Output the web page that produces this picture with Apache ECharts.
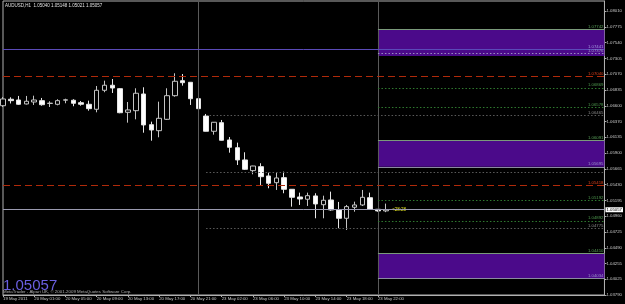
<!DOCTYPE html>
<html><head><meta charset="utf-8">
<script src="https://cdn.jsdelivr.net/npm/echarts@6/dist/echarts.min.js"></script>
<style>html,body{margin:0;padding:0;background:#000;}#c{width:625px;height:304px;}</style>
</head><body><div id="c"></div>
<script>
const symbolName = 'AUDUSD,H1';
const categories = [
 '19 May 21:00','19 May 22:00','19 May 23:00',
 '20 May 00:00','20 May 01:00','20 May 02:00','20 May 03:00','20 May 04:00','20 May 05:00','20 May 06:00','20 May 07:00',
 '20 May 08:00','20 May 09:00','20 May 10:00','20 May 11:00','20 May 12:00','20 May 13:00','20 May 14:00','20 May 15:00',
 '20 May 16:00','20 May 17:00','20 May 18:00','20 May 19:00','20 May 20:00','20 May 21:00','20 May 22:00',
 '23 May 00:00','23 May 01:00','23 May 02:00','23 May 03:00','23 May 04:00','23 May 05:00','23 May 06:00','23 May 07:00',
 '23 May 08:00','23 May 09:00','23 May 10:00','23 May 11:00','23 May 12:00','23 May 13:00','23 May 14:00','23 May 15:00',
 '23 May 16:00','23 May 17:00','23 May 18:00','23 May 19:00','23 May 20:00','23 May 21:00','23 May 22:00','23 May 23:00'
];
const firstTickLabel = '19 May 2011';
const emptySlots = 28;
const opens  = [1.06603,1.06699,1.06688,1.06629,1.06658,1.06678,1.06636,1.06624,1.06685,1.06684,1.06648,1.06624,1.06550,1.06832,1.06907,1.06856,1.06505,1.06529,1.06777,1.06321,1.06232,1.06401,1.06752,1.06975,1.06951,1.06707,1.06450,1.06223,1.06351,1.06094,1.05979,1.05797,1.05638,1.05697,1.05559,1.05459,1.05534,1.05361,1.05247,1.05213,1.05262,1.05132,1.05202,1.05054,1.04930,1.05094,1.05128,1.05236,1.05064,1.05040];
const highs  = [1.06733,1.06728,1.06748,1.06748,1.06752,1.06718,1.06669,1.06699,1.06707,1.06699,1.06673,1.06678,1.06896,1.06975,1.07000,1.06866,1.06658,1.06862,1.06877,1.06366,1.06663,1.06862,1.07085,1.07074,1.06955,1.06718,1.06480,1.06360,1.06391,1.06138,1.06054,1.05911,1.05710,1.05748,1.05608,1.05608,1.05623,1.05365,1.05311,1.05311,1.05302,1.05266,1.05326,1.05173,1.05128,1.05177,1.05351,1.05311,1.05068,1.05148];
const lows   = [1.06584,1.06636,1.06614,1.06621,1.06614,1.06603,1.06584,1.06609,1.06639,1.06595,1.06603,1.06529,1.06505,1.06803,1.06792,1.06491,1.06351,1.06401,1.06202,1.06083,1.06134,1.06391,1.06737,1.06901,1.06614,1.06465,1.06220,1.06173,1.06085,1.05905,1.05722,1.05648,1.05584,1.05425,1.05376,1.05351,1.05302,1.05103,1.05128,1.05113,1.04930,1.04930,1.05043,1.04782,1.04756,1.05028,1.05113,1.05054,1.05028,1.05021];
const closes = [1.06703,1.06678,1.06624,1.06669,1.06688,1.06618,1.06641,1.06678,1.06691,1.06639,1.06624,1.06559,1.06832,1.06907,1.06866,1.06499,1.06540,1.06788,1.06317,1.06242,1.06416,1.06752,1.06966,1.06945,1.06707,1.06559,1.06223,1.06357,1.06089,1.05985,1.05797,1.05658,1.05707,1.05548,1.05450,1.05529,1.05361,1.05242,1.05217,1.05266,1.05143,1.05198,1.05054,1.04930,1.05103,1.05128,1.05242,1.05064,1.05040,1.05057];
const priceTicks = [1.08010,1.07775,1.07540,1.07305,1.07070,1.06835,1.06600,1.06370,1.06135,1.05900,1.05665,1.05430,1.05195,1.04960,1.04725,1.04490,1.04255,1.04025,1.03790];
const priceMin = 1.03790, priceMax = 1.08159;
const zoneTops = [1.07742, 1.06091, 1.04410];
const zoneBottoms = [1.07342, 1.05695, 1.04034];
const zoneStartBar = 48;
const greenLevels = [1.06869, 1.06578, 1.05192, 1.04892];
const grayLevels = [1.06465, 1.05618, 1.04775];
const grayLevelLabels = ['1.06465', '', '1.04775'];
const grayStartBar = 26;
const redLevels = [1.07040, 1.05418];
const blueLevel = 1.07441;
const zoneDotLevel = 1.07376;
const bottomLabelLevels = [1.05695, 1.04034];
const currentPrice = 1.05057;
const verticalLineBars = [25, 48];
const countdownText = '<28:28';
const copyrightText = 'MetaTrader - Alpari UK, \u00a9 2001-2009 MetaQuotes Software Corp.';

const allCats = categories.concat(Array(emptySlots).fill(''));
const lastSlot = allCats.length - 1;
const FF = 'Liberation Sans';
const smallFont = 4.3;
const n = categories.length;

function lbl(text, color){
  return {show: !!text, formatter: text, position: 'insideEndTop', distance: [1, 0.6],
    color: color, fontSize: smallFont, fontFamily: FF};
}
function hLine(v, start, lineStyle, label){
  return [{xAxis: start, yAxis: v, lineStyle: lineStyle, label: label}, {xAxis: lastSlot, yAxis: v}];
}
const mlData = [];
verticalLineBars.forEach(b => mlData.push([{xAxis: b, yAxis: priceMax, lineStyle:{color:'#5a5a5a', type:'solid', width:1}, label:{show:false}}, {xAxis: b, yAxis: priceMin}]));
mlData.push(hLine(blueLevel, 0, {color:'#5a4ab8', type:'solid', width:1}, lbl(blueLevel.toFixed(5), '#a59ae0')));
redLevels.forEach(v => mlData.push(hLine(v, 0, {color:'#b02a0a', type:[7,4], width:1}, lbl(v.toFixed(5), '#e0401a'))));
mlData.push(hLine(currentPrice, 0, {color:'#9a9ab0', type:'solid', width:1},
  {show:true, position:'end', distance:1, formatter: currentPrice.toFixed(5), color:'#000', backgroundColor:'#fff',
    fontSize: smallFont, fontFamily: FF, padding:[0.5,1]}));
greenLevels.forEach(v => mlData.push(hLine(v, zoneStartBar, {color:'#2f7a2f', type:[1.5,2], width:1}, lbl(v.toFixed(5), '#4f9a4f'))));
grayLevels.forEach((v,i) => mlData.push(hLine(v, grayStartBar, {color:'#5a5a5a', type:[1.5,2], width:1}, lbl(grayLevelLabels[i], '#8a8a8a'))));
mlData.push(hLine(zoneDotLevel, zoneStartBar, {color:'#9a90c0', type:[1.5,2], width:1}, lbl(zoneDotLevel.toFixed(5), '#a09ac8')));
zoneTops.forEach(v => mlData.push(hLine(v, zoneStartBar, {color:'#7a9a7a', type:'solid', width:1}, lbl(v.toFixed(5), '#5aa05a'))));
bottomLabelLevels.forEach(v => mlData.push(hLine(v, zoneStartBar, {color:'#8a8aa0', type:'solid', width:1}, lbl(v.toFixed(5), '#9a94c8'))));

const zoneData = zoneTops.map((t,i) => [{xAxis: zoneStartBar, yAxis: t}, {xAxis: lastSlot, yAxis: zoneBottoms[i]}]);

const chart = echarts.init(document.getElementById('c'), null, {renderer:'canvas'});
chart.setOption({
  backgroundColor: '#000',
  animation: false,
  grid: {left: 2, right: 18, top: 1, bottom: 9, show: true, borderColor: '#b0b0b0', borderWidth: 1, backgroundColor: 'transparent'},
  xAxis: {
    type: 'category', data: allCats, boundaryGap: false,
    axisLine: {lineStyle: {color: '#b0b0b0', width: 1}},
    axisTick: {show: true, length: 2, lineStyle:{color:'#b0b0b0'}, interval: (i, v) => v !== '' && i % 4 === 0},
    axisLabel: {interval: (i, v) => v !== '' && i % 4 === 0, color: '#c8c8c8', fontSize: smallFont, fontFamily: FF,
      align: 'left', margin: 2, formatter: (v, i) => i === 0 ? firstTickLabel : v},
    splitLine: {show: false}
  },
  yAxis: {
    type: 'value', position: 'right', min: priceMin, max: priceMax, scale: true,
    axisLine: {show: true, lineStyle: {color: '#b0b0b0', width: 1}},
    axisTick: {show: true, length: 2, customValues: priceTicks, lineStyle:{color:'#b0b0b0'}},
    axisLabel: {customValues: priceTicks, color: '#c8c8c8', fontSize: smallFont, fontFamily: FF, margin: 2,
      formatter: v => v.toFixed(5)},
    splitLine: {show: false}
  },
  series: [{
    type: 'candlestick',
    data: opens.map((o,i) => [o, closes[i], lows[i], highs[i]]),
    barWidth: 5,
    itemStyle: {color: '#000', color0: '#ffffff', borderColor: '#c4c4c4', borderColor0: '#e6e6e6', borderWidth: 1},
    markArea: {silent: true, itemStyle: {color: '#4b0a8a'}, data: zoneData},
    markLine: {silent: true, symbol: ['none','none'], animation: false, data: mlData}
  }],
  graphic: [
    {type:'text', left: 5, top: 3, style:{text: symbolName + '  ' + [opens[n-1], highs[n-1], lows[n-1], closes[n-1]].map(v=>v.toFixed(5)).join(' '),
      fill:'#e0e0e0', fontSize: 4.5, fontFamily: FF}},
    {type:'text', left: 3, top: 278, style:{text: closes[n-1].toFixed(5), fill:'#6a5fe0', fontSize: 15, fontFamily: FF}},
    {type:'text', left: 3, top: 289.5, style:{text: copyrightText, fill:'#b0b0b0', fontSize: 4.4, fontFamily: FF}},
    {type:'text', left: 392, top: 207, style:{text: countdownText, fill:'#e0e020', fontSize: 4.5, fontFamily: FF}}
  ]
});
</script></body></html>
